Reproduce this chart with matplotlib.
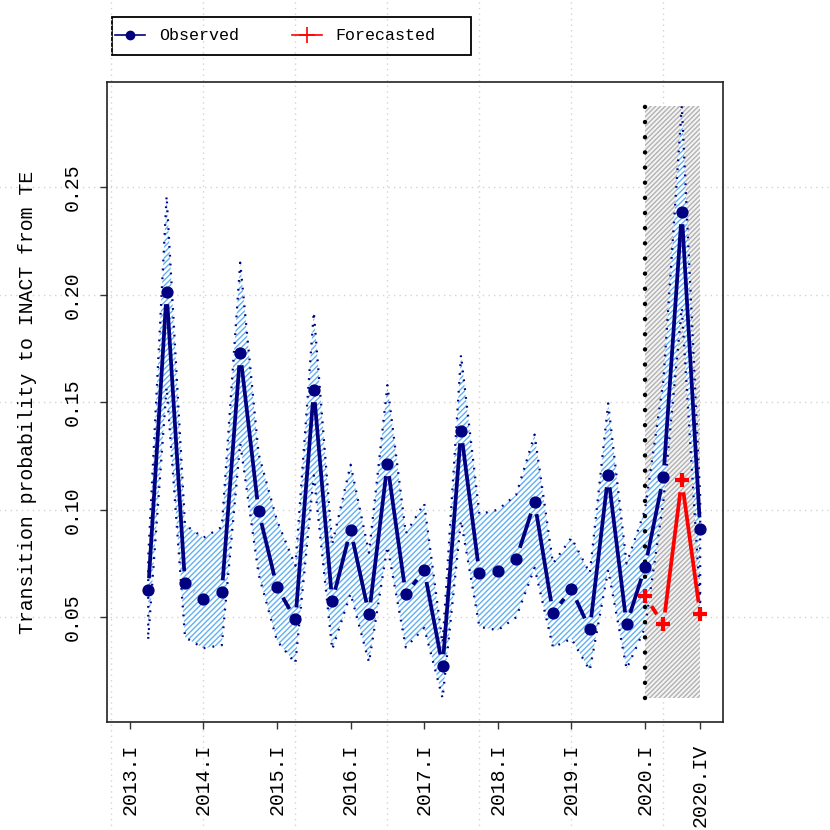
import numpy as np
import matplotlib
matplotlib.use("Agg")
import matplotlib.pyplot as plt
from matplotlib.collections import LineCollection
from matplotlib.lines import Line2D
from matplotlib.patches import Rectangle

plt.rcParams['font.family'] = ['Liberation Mono', 'DejaVu Sans Mono']
plt.rcParams['hatch.linewidth'] = 1.0

# ---------------- data ----------------
quarters = ['2013.II', '2013.III', '2013.IV',
            '2014.I', '2014.II', '2014.III', '2014.IV',
            '2015.I', '2015.II', '2015.III', '2015.IV',
            '2016.I', '2016.II', '2016.III', '2016.IV',
            '2017.I', '2017.II', '2017.III', '2017.IV',
            '2018.I', '2018.II', '2018.III', '2018.IV',
            '2019.I', '2019.II', '2019.III', '2019.IV',
            '2020.I', '2020.II', '2020.III', '2020.IV']
obs_idx = list(range(2, 33))  # 2013.I = 1

observed = [0.0626, 0.2012, 0.0658,
            0.0584, 0.0616, 0.1728, 0.0993,
            0.0640, 0.0490, 0.1556, 0.0574,
            0.0905, 0.0514, 0.1212, 0.0607,
            0.0719, 0.0272, 0.1365, 0.0705,
            0.0714, 0.0770, 0.1035, 0.0519,
            0.0630, 0.0444, 0.1160, 0.0467,
            0.0733, 0.1151, 0.2384, 0.0909]

upper = [0.078, 0.246, 0.093,
         0.087, 0.092, 0.215, 0.126,
         0.095, 0.074, 0.192, 0.084,
         0.121, 0.080, 0.158, 0.089,
         0.103, 0.038, 0.172, 0.098,
         0.100, 0.107, 0.135, 0.075,
         0.087, 0.0705, 0.1495, 0.075,
         0.100, 0.160, 0.288, 0.106]

lower = [0.040, 0.157, 0.0407,
         0.0356, 0.037, 0.131, 0.070,
         0.039, 0.0286, 0.116, 0.035,
         0.061, 0.029, 0.083, 0.036,
         0.045, 0.0123, 0.095, 0.0455,
         0.044, 0.050, 0.073, 0.036,
         0.040, 0.0253, 0.072, 0.026,
         0.045, 0.104, 0.194, 0.057]

fc_idx = [29, 30, 31, 32]
forecast = [0.0598, 0.0467, 0.1137, 0.0514]

tick_pos = [1, 5, 9, 13, 17, 21, 25, 29, 32]
tick_labels = ['2013.I', '2014.I', '2015.I', '2016.I', '2017.I',
               '2018.I', '2019.I', '2020.I', '2020.IV']
ytick_vals = [0.05, 0.10, 0.15, 0.20, 0.25]
ylabel = 'Transition probability to INACT from TE'

# ---------------- figure ----------------
W = H = 830
fig = plt.figure(figsize=(W / 100, H / 100), dpi=100)
ax = fig.add_axes([107 / W, 1 - 722 / H, 616 / W, 640 / H])

xmin, xmax = 1, 32
xp = 0.04 * (xmax - xmin)
ax.set_xlim(xmin - xp, xmax + xp)
lo, hi = min(lower), max(upper)
yp = 0.04 * (hi - lo)
ax.set_ylim(lo - yp, hi + yp)

# grid (drawn across the whole device, R style)
grid_kw = dict(color='#d3d3d3', lw=1.0, ls=(0, (1, 3)), zorder=0, clip_on=False)
for gx in [0, 5, 10, 15, 20, 25, 30]:
    ax.axvline(gx, ymin=-1, ymax=2, **grid_kw)
for gy in ytick_vals:
    ax.axhline(gy, xmin=-1, xmax=2, **grid_kw)

# forecast region
ax.add_patch(Rectangle((fc_idx[0], lo), fc_idx[-1] - fc_idx[0], hi - lo,
                       facecolor='#f4f4f4', edgecolor='#b2b2b2', hatch='///////',
                       lw=0, zorder=1))

# band
px = np.array(obs_idx + obs_idx[::-1], dtype=float)
py = np.array(lower + upper[::-1])
ax.fill(px, py, facecolor='white', edgecolor='#62b0f4', hatch='//////', lw=0, zorder=2)
ax.plot(np.append(px, px[0]), np.append(py, py[0]), color='#000080', lw=1.6,
        ls=(0, (0.8, 3.2)), zorder=3)

# vertical dotted line at start of forecast
ax.plot([fc_idx[0], fc_idx[0]], [lo, hi], color='black', lw=3.2, ls=(0, (0.01, 3.4)),
        zorder=4, dash_capstyle='round')


def gapped(x, y, gap_px, color, lw, z):
    pts = ax.transData.transform(np.column_stack([x, y]))
    inv = ax.transData.inverted()
    segs = []
    for p0, p1 in zip(pts[:-1], pts[1:]):
        d = p1 - p0
        L = np.hypot(*d)
        if L <= 2 * gap_px:
            continue
        u = d / L
        segs.append(inv.transform(np.array([p0 + u * gap_px, p1 - u * gap_px])))
    ax.add_collection(LineCollection(segs, colors=color, linewidths=lw, zorder=z))


gapped(obs_idx, observed, 12, '#000080', 2.7, 5)
ax.plot(obs_idx, observed, ls='none', marker='o', ms=7.8, color='#000080', zorder=6)

gapped(fc_idx, forecast, 12, '#ff0000', 2.7, 5)
ax.plot(fc_idx, forecast, ls='none', marker='+', ms=10, mew=3, color='#ff0000', zorder=6)

# axes styling
ax.set_xticks(tick_pos)
ax.set_xticklabels(tick_labels, rotation=90, fontsize=14.3)
ax.set_yticks(ytick_vals)
ax.set_yticklabels([f'{v:.2f}' for v in ytick_vals], rotation=90, va='center', fontsize=14.3)
ax.tick_params(axis='both', length=5, width=1, color='#333333')
ax.tick_params(axis='x', pad=11)
ax.tick_params(axis='y', pad=13)
for s in ax.spines.values():
    s.set_linewidth(1.2)
    s.set_color('#222222')
ax.set_ylabel(ylabel, fontsize=14.3)
ax.yaxis.set_label_coords(-0.113, 0.5)

# legend
handles = [Line2D([], [], color='#000080', lw=1.2, marker='o', ms=6),
           Line2D([], [], color='#ff0000', lw=1.2, marker='+', ms=12, mew=1.2)]
leg = fig.legend(handles, ['Observed', 'Forecasted'], ncol=2, frameon=False,
                 loc='center left', bbox_to_anchor=(112 / W, 1 - 36 / H),
                 borderaxespad=0, borderpad=0.2, handlelength=1.8, handletextpad=0.8,
                 columnspacing=3.2, prop={'size': 12})
fig.patches.append(Rectangle((112 / W, 1 - 55 / H), 359 / W, 38 / H,
                             transform=fig.transFigure, facecolor='white',
                             edgecolor='black', lw=1.3, zorder=-1))

fig.savefig('out.png', dpi=100)
